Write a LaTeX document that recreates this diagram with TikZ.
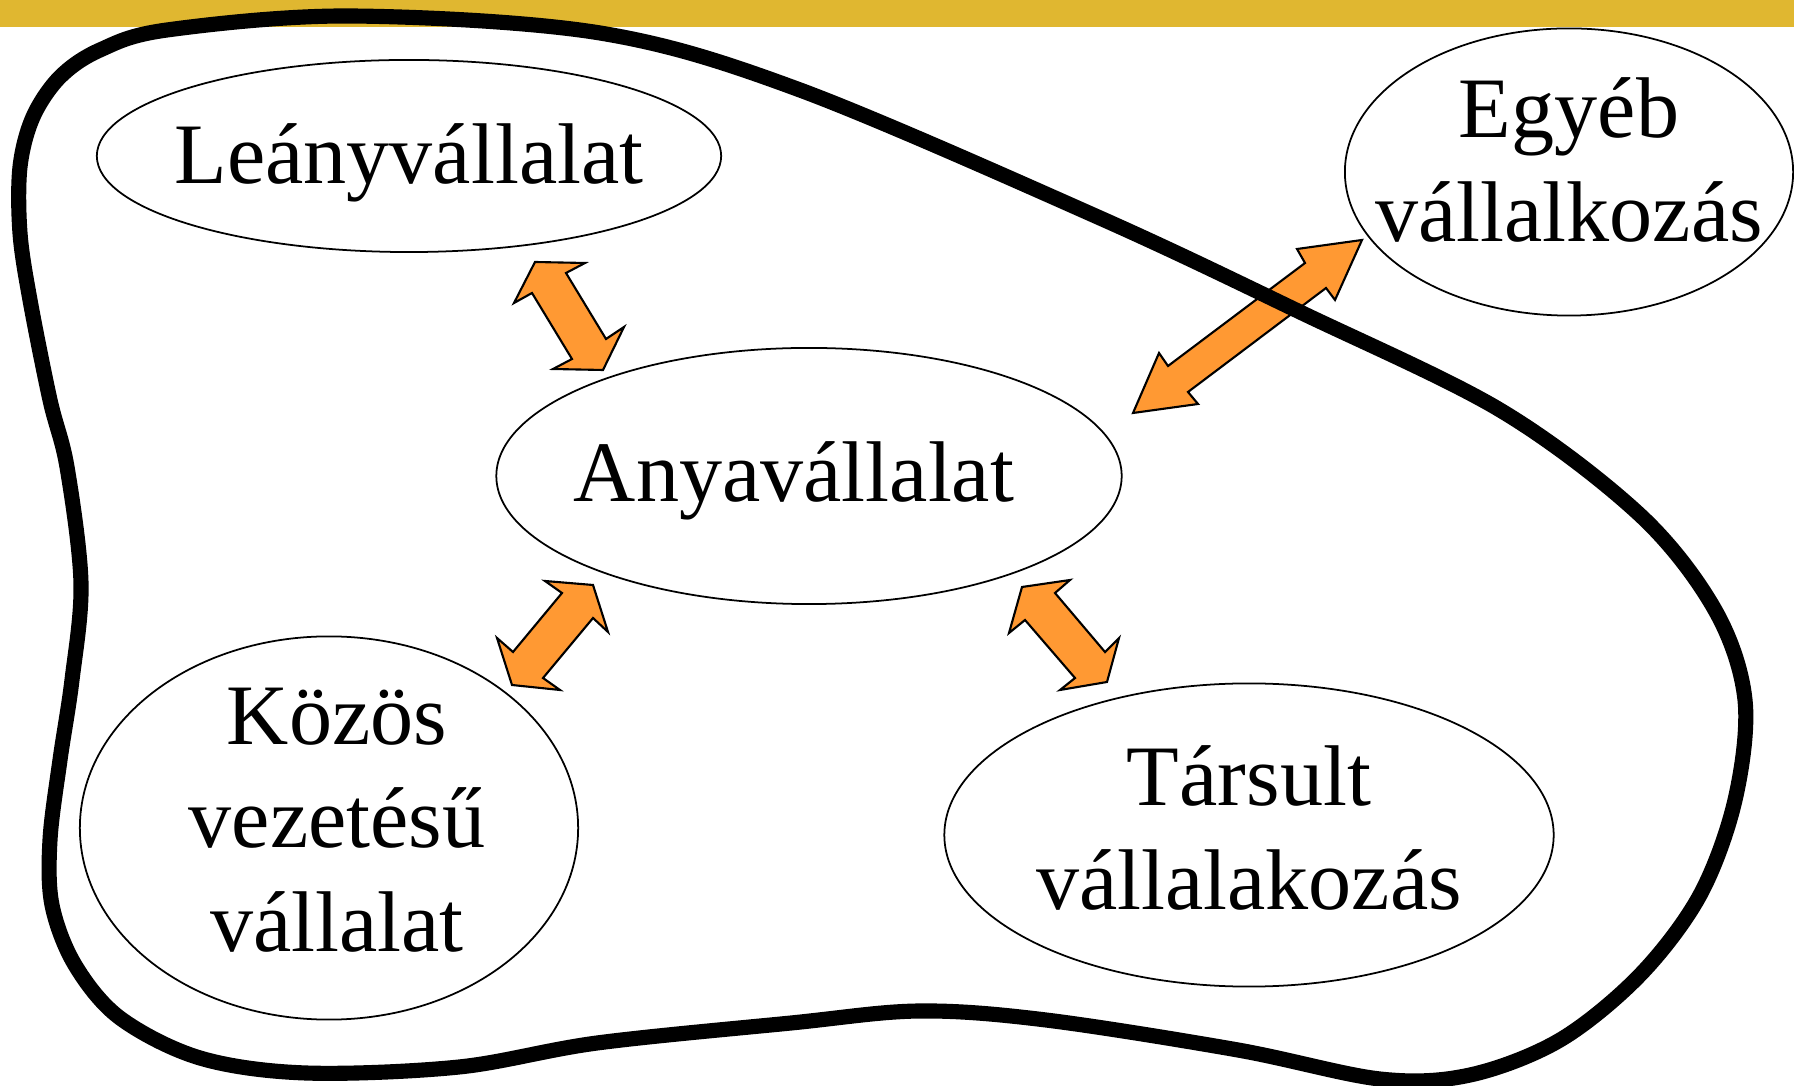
\documentclass[tikz,border=0pt]{standalone}
\usepackage{fontspec}
\setmainfont{Liberation Serif}
\usetikzlibrary{shapes.geometric}
\definecolor{bargold}{RGB}{224,183,48}
\definecolor{arroworange}{RGB}{255,153,51}

\begin{document}
\begin{tikzpicture}[x=0.01cm, y=-0.01cm,
    firm/.style={draw, line width=0.5pt, fill=white, shape=ellipse, inner sep=0pt},
    firmtext/.style={font=\fontsize{24.5}{29.5}\selectfont, align=center, inner sep=0pt},
    blockarrow/.style={draw, line width=0.6pt, fill=arroworange, line join=miter},
    blobline/.style={line width=4.3pt}]
        \useasboundingbox (0,0) rectangle (1794,1086);
        \fill[bargold] (0,0) rectangle (1794,27);

        \node[firm, style={minimum width=6.24cm, minimum height=1.92cm}, label={[firmtext, yshift=-0.07cm]center:Leányvállalat}] (leany) at (409,156) {};
        \node[firm, style={minimum width=4.48cm, minimum height=2.87cm}, label={[firmtext, yshift=0.12cm]center:{Egyéb\\vállalkozás}}] (egyeb) at (1569,172) {};
        \node[firm, style={minimum width=6.25cm, minimum height=2.56cm}, label={[firmtext, xshift=-0.15cm, yshift=-0.05cm]center:Anyavállalat}] (anya) at (809,476) {};
        \node[firm, style={minimum width=4.98cm, minimum height=3.83cm}, label={[firmtext, xshift=0.08cm, yshift=0.08cm]center:{Közös\\vezetésű\\vállalat}}] (kozos) at (329,828) {};
        \node[firm, style={minimum width=6.09cm, minimum height=3.03cm}, label={[firmtext, yshift=0.07cm]center:{Társult\\vállalakozás}}] (tarsult) at (1249,835) {};

        \draw[blockarrow] (535,262) -- (585,263) -- (566,273) -- (606,339) -- (624,327) -- (603,370) -- (553,369) -- (572,359) -- (532,293) -- (514,303) -- cycle;
        \draw[blockarrow] (545,581) -- (593,585) -- (608,632) -- (593,618) -- (543,678) -- (560,690) -- (512,685) -- (497,638) -- (513,652) -- (562,593) -- cycle;
        \draw[blockarrow] (1022,587) -- (1070,580) -- (1055,593) -- (1105,652) -- (1119,638) -- (1107,682) -- (1060,690) -- (1075,678) -- (1025,620) -- (1009,633) -- cycle;
        \draw[blockarrow] (1362,240) -- (1335,300) -- (1326,288) -- (1188,392) -- (1198,404) -- (1133,413) -- (1159,353) -- (1168,366) -- (1305,263) -- (1297,249) -- cycle;

        \draw[blobline] plot[smooth cycle, tension=0.55] coordinates {(350,16) (600,33) (800,90) (1100,218) (1300,312) (1500,410) (1640,515) (1715,610) (1745,700) (1735,800) (1700,895) (1640,975) (1560,1040) (1470,1075) (1380,1079) (1238,1050) (1046,1020) (919,1011) (791,1023) (597,1043) (459,1067) (306,1073) (200,1058) (120,1018) (75,965) (52,905) (50,840) (60,760) (72,680) (81,583) (67,467) (50,400) (30,300) (20,233) (20,167) (33,117) (60,77) (100,50) (167,30)};
\end{tikzpicture}
\end{document}
